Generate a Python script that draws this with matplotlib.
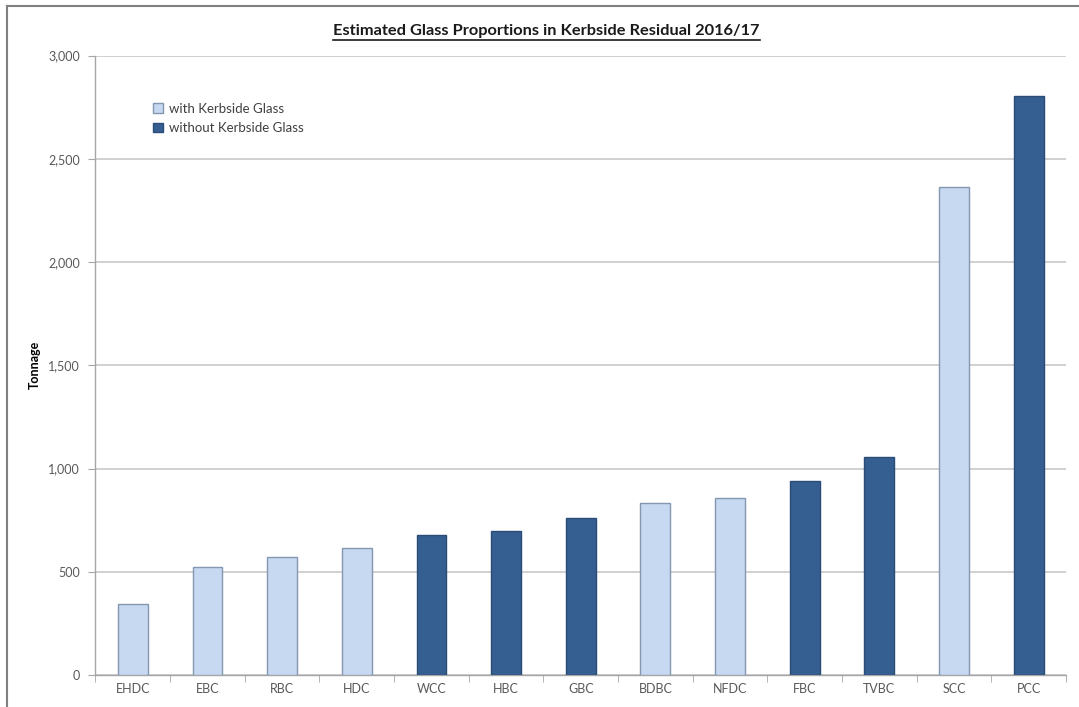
import numpy as np
import matplotlib.pyplot as plt
from matplotlib.lines import Line2D
from matplotlib.patches import Patch

# councils, sorted by residual glass tonnage
councils = ['EHDC', 'EBC', 'RBC', 'HDC', 'WCC', 'HBC', 'GBC', 'BDBC',
            'NFDC', 'FBC', 'TVBC', 'SCC', 'PCC']
tonnage = [344, 521, 571, 615, 678, 697, 761, 831, 855, 940, 1057, 2362, 2804]
kerbside_glass = [True, True, True, True, False, False, False, True,
                  True, False, False, True, False]

light = '#C6D9F1'
light_edge = '#8497B0'
dark = '#355F91'
dark_edge = '#2A4C76'
grey = '#595959'

plt.rcParams['font.family'] = ['Lato', 'DejaVu Sans']

fig = plt.figure(figsize=(10.79, 7.07), dpi=100)
ax = fig.add_axes([0.0885, 0.0453, 0.8995, 0.876])

x = np.arange(len(councils))
cols = [light if k else dark for k in kerbside_glass]
edges = [light_edge if k else dark_edge for k in kerbside_glass]
ax.bar(x, tonnage, width=0.4, color=cols, edgecolor=edges, linewidth=1.0, zorder=3)

ax.set_xlim(-0.5, len(councils) - 0.5)
ax.set_ylim(0, 3000)
ax.set_yticks(np.arange(0, 3001, 500))
ax.set_yticklabels(['{:,}'.format(v) for v in range(0, 3001, 500)])
ax.yaxis.grid(True, color='#C8C8C8', linewidth=1.2, zorder=0)

ax.set_xticks(x)
ax.set_xticklabels(councils)
ax.set_xticks(np.arange(-0.5, len(councils), 1), minor=True)
ax.tick_params(axis='x', which='major', length=0, pad=6, labelsize=9, labelcolor=grey)
ax.tick_params(axis='x', which='minor', length=5, color='#A6A6A6', direction='out')
ax.tick_params(axis='y', length=5, color='#A6A6A6', direction='out', pad=6,
               labelsize=9, labelcolor=grey)

for s in ['top', 'right']:
    ax.spines[s].set_visible(False)
for s in ['left', 'bottom']:
    ax.spines[s].set_color('#A6A6A6')
    ax.spines[s].set_linewidth(1.0)

ax.set_ylabel('Tonnage', fontsize=9, fontweight='bold')
ax.yaxis.set_label_coords(-0.056, 0.5)

handles = [Patch(facecolor=light, edgecolor=light_edge, label='with Kerbside Glass'),
           Patch(facecolor=dark, edgecolor=dark_edge, label='without Kerbside Glass')]
leg = ax.legend(handles=handles, loc='upper left', bbox_to_anchor=(0.047, 0.943),
                frameon=False, fontsize=9.5, handlelength=0.75, handleheight=0.75,
                handletextpad=0.5, labelspacing=0.55)
for t in leg.get_texts():
    t.set_color('#404040')

title = fig.text(0.5065, 0.956, 'Estimated Glass Proportions in Kerbside Residual 2016/17',
                 ha='center', va='center', fontsize=11.8, fontweight='bold', color='#1a1a1a')

# underline the title
fig.canvas.draw()
bb = title.get_window_extent().transformed(fig.transFigure.inverted())
fig.add_artist(Line2D([bb.x0, bb.x1], [bb.y0 - 0.002, bb.y0 - 0.002],
                      color='#1a1a1a', linewidth=1.2))

# frame lines along top and left edge
fig.add_artist(Line2D([0.0065, 1.0], [0.9915, 0.9915], color='#808080', linewidth=1.5))
fig.add_artist(Line2D([0.0065, 0.0065], [0.0, 0.9915], color='#808080', linewidth=1.5))

fig.savefig('out.png', dpi=100)
